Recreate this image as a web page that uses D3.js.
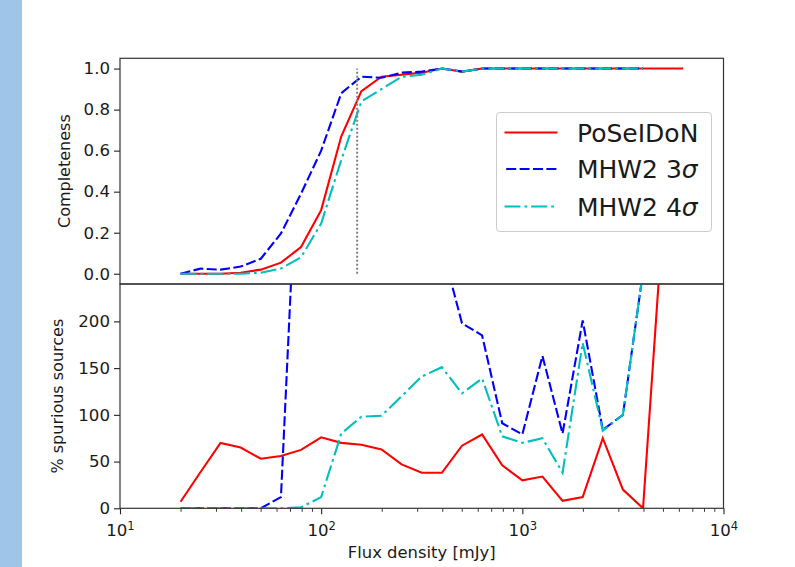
<!DOCTYPE html>
<html>
<head>
<meta charset="utf-8">
<script src="https://cdn.jsdelivr.net/npm/d3@7"></script>
<style>
  html, body { margin: 0; padding: 0; background: #ffffff; }
  svg { display: block; }
  text { font-family: "DejaVu Sans", sans-serif; fill: #1a1a1a; }
</style>
</head>
<body>
<svg id="chart" width="795" height="567"></svg>
<script>
// ---------- data ----------
const flux = [20, 25.1, 31.6, 39.8, 50.1, 63.1, 79.4, 100, 125.9, 158.5, 199.5, 251.2, 316.2,
              398.1, 501.2, 631.0, 794.3, 1000, 1258.9, 1584.9, 1995.3, 2511.9, 3162.3, 3981.1,
              5011.9, 6309.6];

const completenessPoseidon = [0, 0, 0, 0.005, 0.02, 0.054, 0.13, 0.31, 0.67, 0.89, 0.96, 0.97, 0.98,
                              1.0, 0.985, 1, 1, 1, 1, 1, 1, 1, 1, 1, 1, 1];
const completenessMHW3 = [0, 0.025, 0.02, 0.035, 0.073, 0.196, 0.39, 0.60, 0.88, 0.96, 0.955, 0.98,
                          0.985, 1.0, 0.985, 1, 1, 1, 1, 1, 1, 1, 1, 1];
const completenessMHW4 = [0, 0, 0, 0, 0.005, 0.025, 0.08, 0.245, 0.555, 0.84, 0.90, 0.96, 0.97,
                          1.0, 0.985, 1, 1, 1, 1, 1, 1, 1, 1, 1];

const spuriousPoseidon = [7, 38.6, 70, 65, 53, 56, 62.5, 76, 70, 68, 63, 47, 38, 38, 67, 79, 46, 30,
                          34, 8, 12, 75, 20, 0, 312, 400];
const spuriousMHW3 = [0, 0, 0, 0, 0, 12, 469, 420, 390, 360, 330, 310, 290, 280, 198, 185, 91, 79,
                      163, 80, 201, 84, 100, 253];
const spuriousMHW4 = [0, 0, 0, 0, 0, 0, 1, 12, 80, 98, 99, 120, 141, 151, 123, 139, 77, 70, 75, 38,
                      177, 83, 100, 253];

const fluxCut = 151;
const seriesNames = ["PoSeIDoN", "MHW2 3σ", "MHW2 4σ"];
const seriesColors = ["#ff0000", "#0000ff", "#00bfbf"];
const seriesDash = [null, "10,3.4", "16,4,2.7,4"];

const xTickVals = [10, 100, 1000, 10000];
const xTickExp = ["1", "2", "3", "4"];
const compTicks = [0, 0.2, 0.4, 0.6, 0.8, 1.0];
const spurTicks = [0, 50, 100, 150, 200];

// ---------- layout ----------
const svg = d3.select("#chart");
const L = 120, R = 723.5, T1 = 58.3, B1 = 284, T2 = 284, B2 = 508.3;

svg.append("rect").attr("x", 0).attr("y", 0).attr("width", 22).attr("height", 567)
   .attr("fill", "#9fc5e8");

const x = d3.scaleLog().domain([10, 10000]).range([L, R]);
const y1 = d3.scaleLinear().domain([-0.05, 1.05]).range([B1, T1]);
const y2 = d3.scaleLinear().domain([0, 240]).range([B2, T2]);

const defs = svg.append("defs");
defs.append("clipPath").attr("id", "clip1").append("rect")
    .attr("x", L).attr("y", T1).attr("width", R - L).attr("height", B1 - T1);
defs.append("clipPath").attr("id", "clip2").append("rect")
    .attr("x", L).attr("y", T2).attr("width", R - L).attr("height", B2 - T2);

const fs = 16.6;

// ---------- top panel ----------
const g1 = svg.append("g");
const yAxis1 = d3.axisLeft(y1).tickValues(compTicks).tickFormat(d3.format(".1f"))
    .tickSize(6).tickPadding(4);
g1.append("g").attr("transform", `translate(${L},0)`).call(yAxis1)
  .call(g => { g.select(".domain").remove();
               g.selectAll("text").attr("font-size", fs).attr("font-family", "DejaVu Sans").attr("fill", "#1a1a1a");
               g.selectAll("line").attr("stroke", "#222").attr("stroke-width", 1.1); });

const lineTop = d3.line().x((d, i) => x(flux[i])).y(d => y1(d));
const p1 = g1.append("g").attr("clip-path", "url(#clip1)");
[completenessPoseidon, completenessMHW3, completenessMHW4].forEach((arr, k) => {
  p1.append("path").datum(arr).attr("d", lineTop).attr("fill", "none")
    .attr("stroke", seriesColors[k]).attr("stroke-width", 2.1)
    .attr("stroke-dasharray", seriesDash[k]);
});
p1.append("line").attr("x1", x(fluxCut)).attr("x2", x(fluxCut))
  .attr("y1", y1(0)).attr("y2", y1(1))
  .attr("stroke", "#808080").attr("stroke-width", 2).attr("stroke-dasharray", "2,2");

g1.append("rect").attr("x", L).attr("y", T1).attr("width", R - L).attr("height", B1 - T1)
  .attr("fill", "none").attr("stroke", "#333").attr("stroke-width", 1.2);

g1.append("text").attr("transform", `translate(70,${(T1 + B1) / 2}) rotate(-90)`)
  .attr("text-anchor", "middle").attr("font-size", 16).text("Completeness");

// legend
const lg = svg.append("g");
lg.append("rect").attr("x", 496.5).attr("y", 112.5).attr("width", 215).attr("height", 119)
  .attr("rx", 3.5).attr("fill", "#ffffff").attr("fill-opacity", 0.8)
  .attr("stroke", "#cccccc").attr("stroke-width", 1);
const rowsY = [132.5, 169, 206.5];
seriesNames.forEach((name, k) => {
  lg.append("line").attr("x1", 504.5).attr("x2", 557.5).attr("y1", rowsY[k]).attr("y2", rowsY[k])
    .attr("stroke", seriesColors[k]).attr("stroke-width", 2.1)
    .attr("stroke-dasharray", seriesDash[k]).attr("stroke-dashoffset", k === 1 ? -1.7 : 0);
  const t = lg.append("text").attr("x", 577).attr("y", rowsY[k]).attr("dy", "0.36em")
    .attr("font-size", 25);
  if (name.endsWith("σ")) {
    t.append("tspan").text(name.slice(0, -1));
    t.append("tspan").attr("font-style", "italic").text("σ");
  } else {
    t.text(name);
  }
});

// ---------- bottom panel ----------
const g2 = svg.append("g");
const yAxis2 = d3.axisLeft(y2).tickValues(spurTicks).tickFormat(d3.format("d"))
    .tickSize(6).tickPadding(4);
g2.append("g").attr("transform", `translate(${L},0)`).call(yAxis2)
  .call(g => { g.select(".domain").remove();
               g.selectAll("text").attr("font-size", fs).attr("font-family", "DejaVu Sans").attr("fill", "#1a1a1a");
               g.selectAll("line").attr("stroke", "#222").attr("stroke-width", 1.1); });

// x axis: major + minor ticks
const minor = [];
for (let e = 10; e < 10000; e *= 10) for (let m = 2; m <= 9; m++) minor.push(e * m);
const xAxisMinor = d3.axisBottom(x).tickValues(minor).tickFormat("").tickSize(3.5);
g2.append("g").attr("transform", `translate(0,${B2})`).call(xAxisMinor)
  .call(g => { g.select(".domain").remove(); g.selectAll("line").attr("stroke", "#222").attr("stroke-width", 0.9); });
const xAxisMajor = d3.axisBottom(x).tickValues(xTickVals).tickFormat("").tickSize(6);
const xa = g2.append("g").attr("transform", `translate(0,${B2})`).call(xAxisMajor);
xa.select(".domain").remove();
xa.selectAll("line").attr("stroke", "#222").attr("stroke-width", 1.1);
xa.selectAll(".tick").each(function(d, i) {
  const t = d3.select(this).append("text").attr("x", 0).attr("y", 28)
    .attr("text-anchor", "middle").attr("font-size", fs).attr("fill", "#1a1a1a")
    .attr("font-family", "DejaVu Sans");
  t.append("tspan").text("10");
  t.append("tspan").attr("font-size", 11.6).attr("dy", -6.5).text(xTickExp[i]);
});

const lineBot = d3.line().x((d, i) => x(flux[i])).y(d => y2(d));
const p2 = g2.append("g").attr("clip-path", "url(#clip2)");
[spuriousPoseidon, spuriousMHW3, spuriousMHW4].forEach((arr, k) => {
  p2.append("path").datum(arr).attr("d", lineBot).attr("fill", "none")
    .attr("stroke", seriesColors[k]).attr("stroke-width", 2.1)
    .attr("stroke-dasharray", seriesDash[k]);
});

g2.append("rect").attr("x", L).attr("y", T2).attr("width", R - L).attr("height", B2 - T2)
  .attr("fill", "none").attr("stroke", "#333").attr("stroke-width", 1.2);

g2.append("text").attr("transform", `translate(63,${(T2 + B2) / 2}) rotate(-90)`)
  .attr("text-anchor", "middle").attr("font-size", 16).text("% spurious sources");

svg.append("text").attr("x", (L + R) / 2).attr("y", 558).attr("text-anchor", "middle")
  .attr("font-size", 16.4).text("Flux density [mJy]");
</script>
</body>
</html>
